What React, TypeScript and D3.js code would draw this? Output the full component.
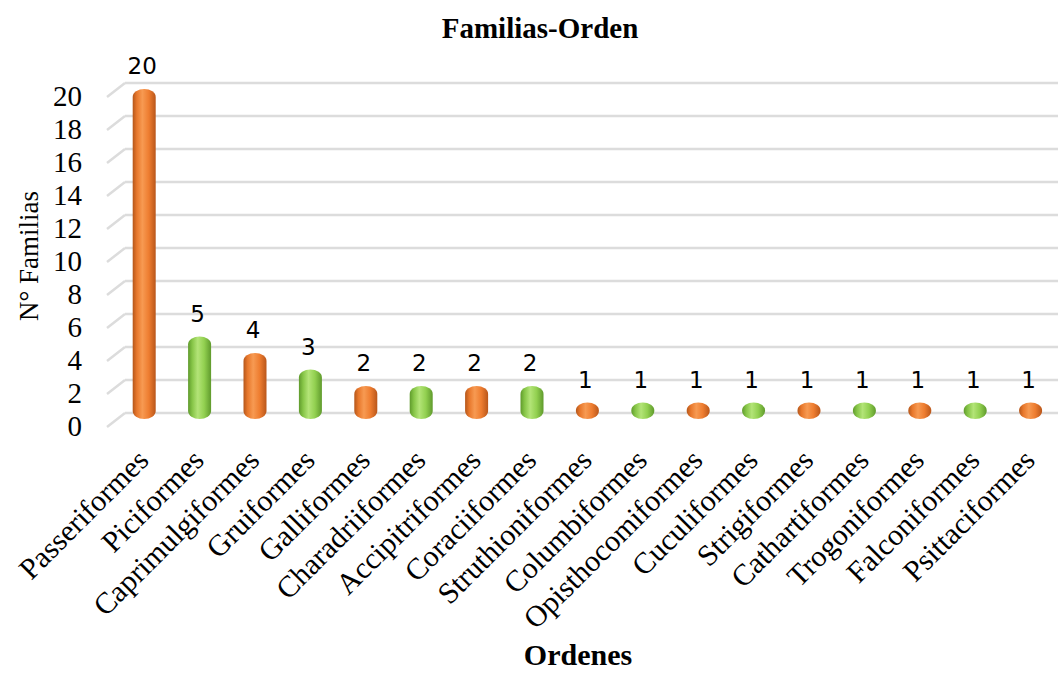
import React from "react";
import * as d3 from "d3";

const categories = [
  "Passeriformes", "Piciformes", "Caprimulgiformes", "Gruiformes", "Galliformes",
  "Charadriiformes", "Accipitriformes", "Coraciiformes", "Struthioniformes", "Columbiformes",
  "Opisthocomiformes", "Cuculiformes", "Strigiformes", "Cathartiformes", "Trogoniformes",
  "Falconiformes", "Psittaciformes",
];
const values = [20, 5, 4, 3, 2, 2, 2, 2, 1, 1, 1, 1, 1, 1, 1, 1, 1];
const yTicks = [0, 2, 4, 6, 8, 10, 12, 14, 16, 18, 20];
const title = "Familias-Orden";
const xTitle = "Ordenes";
const yTitle = "N° Familias";

const W = 1058;
const H = 673;

export default function App() {
  const x = d3.scaleBand<string>().domain(categories).range([116.5, 1058.3]);
  const y = d3.scaleLinear().domain([0, 20]).range([419, 89]);
  const barW = 23;
  const backOff = -6;
  const frontOff = 8;
  const gridX0 = 107;
  const gridX1 = 125;
  const serif = "'Liberation Serif', 'Times New Roman', serif";

  return (
    <svg width={W} height={H} style={{ position: "absolute", left: 0, top: 0, background: "#fff" }}>
      <defs>
        <linearGradient id="gOrange" x1="0" x2="1" y1="0" y2="0">
          <stop offset="0" stopColor="#b4561a" />
          <stop offset="0.18" stopColor="#e8782c" />
          <stop offset="0.42" stopColor="#f79a52" />
          <stop offset="0.7" stopColor="#ee7d30" />
          <stop offset="1" stopColor="#b9561a" />
        </linearGradient>
        <linearGradient id="gGreen" x1="0" x2="1" y1="0" y2="0">
          <stop offset="0" stopColor="#5f9a2c" />
          <stop offset="0.18" stopColor="#86c547" />
          <stop offset="0.42" stopColor="#b3e477" />
          <stop offset="0.7" stopColor="#92d050" />
          <stop offset="1" stopColor="#5f9a2c" />
        </linearGradient>
      </defs>

      {yTicks.map((t) => {
        const yb = y(t) + backOff;
        const yf = y(t) + frontOff;
        return (
          <g key={t}>
            <line x1={gridX1} x2={W} y1={yb} y2={yb} stroke="#dcdcdc" strokeWidth={2.5} />
            <line x1={gridX0} x2={gridX1} y1={yf} y2={yb} stroke="#dcdcdc" strokeWidth={2.5} />
            <text
              x={82}
              y={yf + 2}
              textAnchor="end"
              dominantBaseline="middle"
              fontFamily={serif}
              fontSize={29}
              fill="#000"
            >
              {t}
            </text>
          </g>
        );
      })}

      {categories.map((c, i) => {
        const cx = (x(c) as number) + x.bandwidth() / 2;
        const top = y(values[i]);
        const h = y(0) - top;
        return (
          <g key={c}>
            <rect
              x={cx - barW / 2}
              y={top}
              width={barW}
              height={h}
              rx={barW / 2}
              ry={Math.min(8, h / 2)}
              fill={i % 2 === 0 ? "url(#gOrange)" : "url(#gGreen)"}
            />
            <text
              x={cx - 2}
              y={top - 15}
              textAnchor="middle"
              fontFamily="'DejaVu Sans', sans-serif"
              fontSize={23}
              fill="#000"
            >
              {values[i]}
            </text>
            <text
              transform={`translate(${cx + 6},${462}) rotate(-45)`}
              textAnchor="end"
              fontFamily={serif}
              fontSize={30}
              fill="#000"
            >
              {c}
            </text>
          </g>
        );
      })}

      <text x={540} y={38} textAnchor="middle" fontFamily={serif} fontWeight="bold" fontSize={29}>
        {title}
      </text>
      <text x={578} y={665} textAnchor="middle" fontFamily={serif} fontWeight="bold" fontSize={30}>
        {xTitle}
      </text>
      <text transform="translate(38,256) rotate(-90)" textAnchor="middle" fontFamily={serif} fontSize={27}>
        {yTitle}
      </text>
    </svg>
  );
}
